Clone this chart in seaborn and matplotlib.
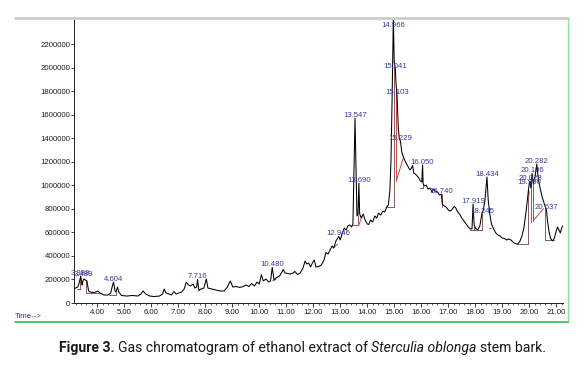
import matplotlib
matplotlib.use("Agg")
import matplotlib.pyplot as plt
from matplotlib.lines import Line2D
from matplotlib import font_manager
import numpy as np
import pandas as pd
import seaborn as sns

# ---------------- data ----------------
time_min = [3.11, 3.20, 3.28, 3.33, 3.388, 3.44, 3.46, 3.50, 3.56, 3.62, 3.68, 3.75, 3.85, 3.95, 4.02, 4.10,
            4.25, 4.40, 4.50, 4.57, 4.604, 4.66, 4.70, 4.75, 4.80, 4.90, 5.10, 5.30, 5.50, 5.62, 5.70, 5.80,
            5.95, 6.10, 6.30, 6.42, 6.48, 6.55, 6.65, 6.75, 6.84, 6.92, 7.02, 7.12, 7.22, 7.30, 7.38, 7.45,
            7.55, 7.62, 7.68, 7.716, 7.76, 7.85, 7.95, 8.04, 8.10, 8.25, 8.40, 8.55, 8.70, 8.82, 8.93, 9.02,
            9.15, 9.28, 9.40, 9.52, 9.62, 9.72, 9.82, 9.92, 10.00, 10.08, 10.15, 10.25, 10.35, 10.42, 10.48,
            10.55, 10.65, 10.75, 10.82, 10.89, 10.95, 11.05, 11.15, 11.25, 11.32, 11.42, 11.52, 11.62, 11.70,
            11.76, 11.83, 11.90, 11.97, 12.04, 12.10, 12.20, 12.30, 12.40, 12.47, 12.55, 12.62, 12.70, 12.76,
            12.84, 12.946, 13.00, 13.08, 13.15, 13.22, 13.28, 13.35, 13.42, 13.47, 13.547, 13.62, 13.66, 13.69,
            13.72, 13.78, 13.85, 13.92, 14.00, 14.06, 14.12, 14.20, 14.28, 14.35, 14.42, 14.50, 14.58, 14.65,
            14.72, 14.78, 14.84, 14.88, 14.92, 14.966, 15.00, 15.041, 15.07, 15.103, 15.15, 15.19, 15.229,
            15.28, 15.34, 15.40, 15.46, 15.52, 15.58, 15.64, 15.68, 15.72, 15.78, 15.85, 15.91, 15.97, 16.02,
            16.05, 16.07, 16.12, 16.18, 16.25, 16.32, 16.40, 16.46, 16.52, 16.60, 16.68, 16.74, 16.78, 16.85,
            16.92, 17.00, 17.08, 17.15, 17.22, 17.28, 17.35, 17.42, 17.50, 17.58, 17.66, 17.74, 17.82, 17.88,
            17.919, 17.96, 18.02, 18.10, 18.17, 18.245, 18.30, 18.36, 18.434, 18.48, 18.54, 18.60, 18.68,
            18.76, 18.84, 18.92, 19.00, 19.08, 19.16, 19.24, 19.32, 19.40, 19.48, 19.56, 19.64, 19.72, 19.80,
            19.88, 19.95, 19.99, 20.028, 20.06, 20.106, 20.15, 20.22, 20.282, 20.33, 20.40, 20.48, 20.56,
            20.637, 20.68, 20.74, 20.80, 20.87, 20.93, 21.00, 21.05, 21.10, 21.15, 21.20, 21.24]
abundance_k = [119, 127, 136, 170, 229, 153, 178, 204, 195, 187, 102, 93, 89, 93, 102, 85,
               68, 68, 85, 153, 178, 102, 93, 136, 93, 64, 59, 64, 59, 76, 102, 76,
               59, 55, 59, 76, 119, 85, 76, 68, 98, 76, 85, 93, 119, 178, 153, 144,
               161, 127, 136, 200, 110, 119, 127, 204, 127, 119, 110, 102, 102, 136, 187, 136,
               140, 132, 140, 153, 140, 166, 144, 178, 161, 242, 187, 204, 178, 187, 302,
               195, 217, 229, 255, 285, 255, 251, 246, 255, 268, 242, 255, 297, 357,
               331, 340, 306, 340, 365, 306, 310, 323, 365, 429, 416, 450, 484, 467,
               527, 565, 535, 595, 637, 620, 654, 663, 646, 671, 1571, 739, 756, 1019,
               756, 722, 756, 705, 671, 667, 705, 688, 739, 722, 764, 747, 781, 773,
               815, 832, 960, 1215, 1724, 2420, 2047, 1988, 1852, 1767, 1486, 1393, 1376,
               1283, 1240, 1206, 1181, 1155, 1130, 1147, 1168, 1104, 1096, 1079, 1062, 1036, 1028,
               1172, 1011, 994, 1002, 968, 977, 943, 968, 951, 943, 917, 926, 841, 824,
               815, 790, 781, 798, 820, 807, 773, 756, 722, 697, 671, 646, 629, 629,
               841, 663, 629, 624, 654, 756, 790, 875, 1070, 875, 756, 671, 629,
               595, 578, 569, 552, 548, 535, 544, 535, 518, 505, 501, 518, 561, 637,
               773, 917, 998, 1036, 977, 1100, 1011, 1079, 1181, 1062, 977, 900, 841,
               790, 688, 595, 544, 527, 552, 612, 646, 620, 595, 637, 654]

peak_rt = [3.388, 3.489, 4.604, 7.716, 10.480, 12.946, 13.547, 13.690, 14.966, 15.041, 15.103,
           15.229, 16.050, 16.740, 17.919, 18.245, 18.434, 19.990, 20.028, 20.106, 20.282, 20.637]
peak_top_k = [229, 215, 178, 200, 302, 565, 1571, 1019, 2330, 1988, 1767,
              1376, 1172, 926, 841, 756, 1070, 998, 1036, 1100, 1181, 790]

# integration baselines / drop lines (t0, I0, t1, I1) in thousands
base_t0 = [3.24, 3.36, 3.57, 3.57, 4.45, 4.70, 13.47, 13.64, 14.72, 15.00, 15.95, 16.07, 16.76,
           17.82, 17.96, 18.24, 19.54, 19.97, 20.06, 20.15, 20.60, 20.60]
base_i0 = [115, 115, 85, 85, 68, 68, 660, 660, 815, 815, 975, 975, 818,
           621, 621, 621, 505, 505, 690, 699, 535, 535]
base_t1 = [3.36, 3.36, 4.08, 3.57, 4.70, 4.70, 13.64, 13.64, 15.00, 15.00, 16.07, 16.07, 16.76,
           18.24, 17.96, 18.24, 19.97, 19.97, 20.06, 20.15, 20.93, 20.60]
base_i1 = [115, 215, 85, 192, 68, 93, 660, 750, 815, 2047, 975, 1011, 926,
           621, 663, 756, 505, 960, 1017, 1011, 535, 815]
red_t0 = [7.74, 10.50, 12.78, 13.68, 15.08, 15.08, 18.50, 19.96, 20.15]
red_i0 = [100, 190, 475, 657, 1040, 1040, 634, 875, 699]
red_t1 = [7.82, 10.60, 12.90, 13.80, 15.08, 15.33, 18.58, 20.00, 20.51]
red_i1 = [115, 200, 500, 733, 1800, 1230, 634, 945, 796]

y_ticks = [0, 200000, 400000, 600000, 800000, 1000000, 1200000, 1400000,
           1600000, 1800000, 2000000, 2200000]
x_ticks = [4, 5, 6, 7, 8, 9, 10, 11, 12, 13, 14, 15, 16, 17, 18, 19, 20, 21]

# ---------------- style ----------------
sns.set_theme(style="white")
plt.rcParams['font.family'] = ['Liberation Sans', 'DejaVu Sans']

W, H = 585, 366
fig = plt.figure(figsize=(W / 100, H / 100), dpi=100)
ax = fig.add_axes([74 / W, 1 - 303 / H, (563 - 74) / W, (303 - 20) / H])

df = pd.DataFrame({"time": time_min, "abundance": np.array(abundance_k) * 1000})

for t0, i0, t1, i1 in zip(base_t0, base_i0, base_t1, base_i1):
    ax.plot([t0, t1], [i0 * 1000, i1 * 1000], color="#8a5a5a", lw=0.7, zorder=2)
for t0, i0, t1, i1 in zip(red_t0, red_i0, red_t1, red_i1):
    ax.plot([t0, t1], [i0 * 1000, i1 * 1000], color="#d04545", lw=0.7, zorder=2)

sns.lineplot(data=df, x="time", y="abundance", ax=ax, color="black", lw=0.75,
             sort=False, estimator=None, zorder=3)

for rt, top in zip(peak_rt, peak_top_k):
    ax.annotate(f"{rt:.3f}", (rt, top * 1000), xytext=(0, 1.0), textcoords="offset points",
                ha="center", va="baseline", fontsize=5.6, color="#3a3a9c", zorder=4)

ax.set_xlim(3.14, 21.25)
ax.set_ylim(0, 2404000)
ax.set_xticks(x_ticks)
ax.set_xticklabels([f"{v:.2f}" for v in x_ticks])
ax.set_xticks(np.arange(3.2, 21.25, 0.2), minor=True)
ax.set_yticks(y_ticks)
ax.set_yticklabels([str(v) for v in y_ticks])
ax.set_xlabel("")
ax.set_ylabel("")
ax.tick_params(axis="both", which="major", direction="out", length=3, width=0.6,
               labelsize=5.6, colors="#202020", pad=1.5)
ax.tick_params(axis="y", which="major", length=2, pad=0.6, left=True)
ax.tick_params(axis="x", which="minor", direction="out", length=1.5, width=0.5, colors="#202020",
               bottom=True)
ax.tick_params(axis="x", which="major", bottom=True)
for s in ["top", "right"]:
    ax.spines[s].set_visible(False)
for s in ["left", "bottom"]:
    ax.spines[s].set_color("#202020")
    ax.spines[s].set_linewidth(0.7)
ax.set_facecolor("white")

# outer frame
fig.add_artist(Line2D([15 / W, 568 / W], [1 - 18 / H] * 2, color="#c8c8c8", lw=1.8,
                      transform=fig.transFigure))
fig.add_artist(Line2D([568 / W] * 2, [1 - 18 / H, 1 - 322 / H], color="#8fe0a0", lw=1.0,
                      transform=fig.transFigure))
fig.add_artist(Line2D([15 / W, 568 / W], [1 - 322 / H] * 2, color="#2fc050", lw=1.2,
                      transform=fig.transFigure))
fig.text(15 / W, 1 - 317 / H, "Time-->", fontsize=5.6, color="#1f3a8a", va="center", ha="left")

# caption
names = {f.name for f in font_manager.fontManager.ttflist}
cap_family = "Liberation Sans Narrow" if "Liberation Sans Narrow" in names else "Roboto"
pieces = [("Figure 3.", "bold", "normal"),
          ("Gas chromatogram of ethanol extract of", "normal", "normal"),
          ("Sterculia oblonga", "normal", "italic"),
          ("stem bark.", "normal", "normal")]
renderer = fig.canvas.get_renderer()


def measure(txt, size, weight="normal", style="normal"):
    t = fig.text(0, 0, txt, fontsize=size, family=cap_family, weight=weight, style=style)
    w = t.get_window_extent(renderer).width
    t.remove()
    return w


def total_width(size):
    sp = measure("x x", size) - measure("xx", size)
    return sum(measure(p, size, w, s) for p, w, s in pieces) + sp * (len(pieces) - 1), sp


base_size = 12
tw, _ = total_width(base_size)
cap_size = base_size * 485 / tw
tw, sp = total_width(cap_size)
x = 302.5 - tw / 2
for p, w, s in pieces:
    fig.text(x / W, 1 - 348 / H, p, fontsize=cap_size, family=cap_family, weight=w, style=s,
             color="#1a1a1a", va="center", ha="left")
    x += measure(p, cap_size, w, s) + sp

fig.savefig("out.png", dpi=100)
